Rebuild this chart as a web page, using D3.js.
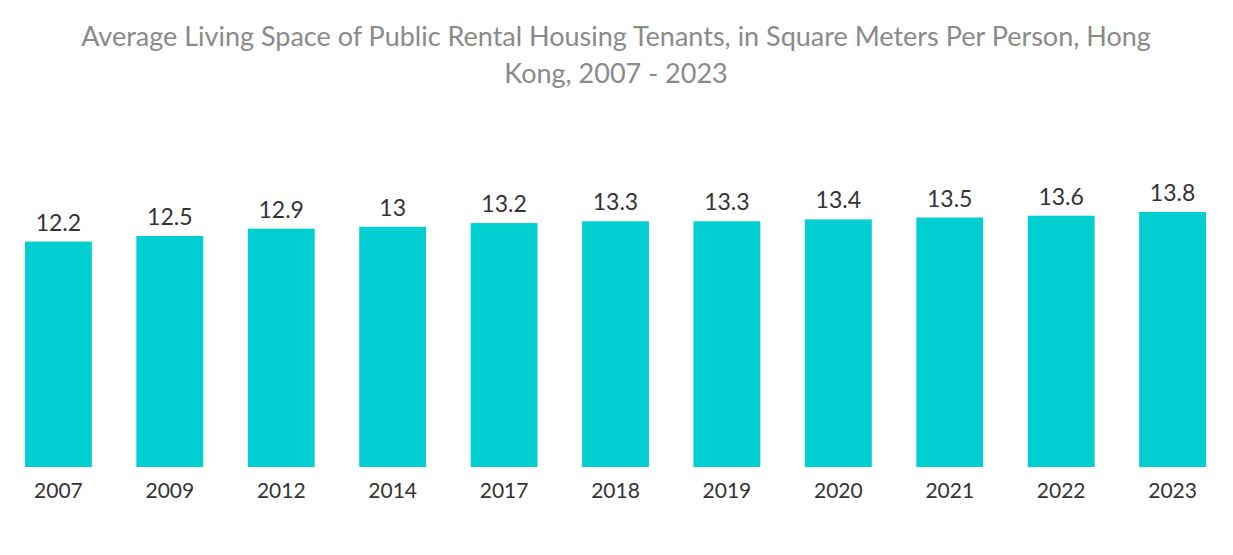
<!DOCTYPE html>
<html>
<head>
<meta charset="utf-8">
<script src="https://cdn.jsdelivr.net/npm/d3@7"></script>
<style>
body { margin: 0; background: #fff; font-family: Lato, "Open Sans", sans-serif; }
</style>
</head>
<body>
<svg id="chart" width="1233" height="555"></svg>
<script>
// chart data
var years = ["2007", "2009", "2012", "2014", "2017", "2018", "2019", "2020", "2021", "2022", "2023"];
var space = [12.2, 12.5, 12.9, 13, 13.2, 13.3, 13.3, 13.4, 13.5, 13.6, 13.8];

var svg = d3.select("#chart");
var baseY = 467;

var x = d3.scaleBand()
    .domain(years)
    .range([2.7, 1228.3])
    .paddingInner(0.4)
    .paddingOuter(0.2);

var y = d3.scaleLinear()
    .domain([0, 13.8])
    .range([baseY, 212]);

svg.append("text")
    .attr("x", 616).attr("y", 46)
    .attr("text-anchor", "middle")
    .style("font-size", "27px").style("fill", "#8a8a8a")
    .text("Average Living Space of Public Rental Housing Tenants, in Square Meters Per Person, Hong");
svg.append("text")
    .attr("x", 616).attr("y", 83)
    .attr("text-anchor", "middle")
    .style("font-size", "27px").style("fill", "#8a8a8a")
    .text("Kong, 2007 - 2023");

svg.selectAll(".bar")
    .data(years)
    .enter().append("rect")
    .attr("class", "bar")
    .attr("x", function(d){ return x(d); })
    .attr("width", x.bandwidth())
    .attr("y", function(d, i){ return y(space[i]); })
    .attr("height", function(d, i){ return baseY - y(space[i]); })
    .style("fill", "#00ced1");

svg.selectAll(".val")
    .data(years)
    .enter().append("text")
    .attr("class", "val")
    .attr("x", function(d){ return x(d) + x.bandwidth() / 2; })
    .attr("y", function(d, i){ return y(space[i]) - 11; })
    .attr("text-anchor", "middle")
    .style("font-size", "23px").style("fill", "#333")
    .text(function(d, i){ return space[i]; });

var xAxis = svg.append("g")
    .attr("transform", "translate(0," + baseY + ")")
    .call(d3.axisBottom(x).tickSize(0).tickPadding(16));
xAxis.select(".domain").remove();
xAxis.selectAll("text")
    .style("font-size", "21px").style("fill", "#333")
    .style("font-family", "Lato, 'Open Sans', sans-serif");
</script>
</body>
</html>
